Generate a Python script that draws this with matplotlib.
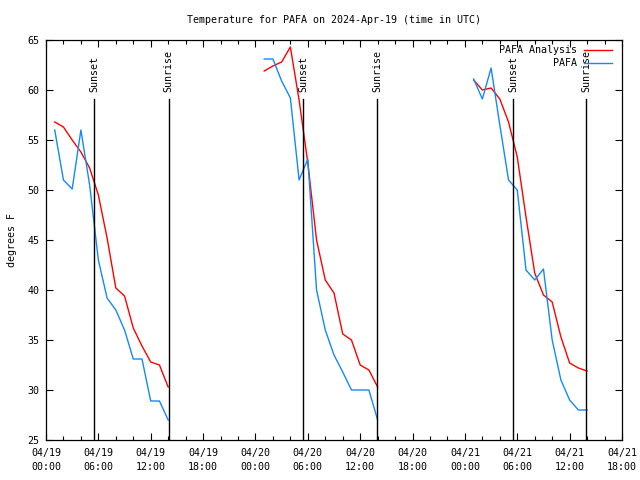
import numpy as np
import matplotlib
matplotlib.use('Agg')
import matplotlib.pyplot as plt
from matplotlib.ticker import FixedLocator, MultipleLocator

# hours since 2024-04-19 00:00 UTC, one block per evening
hours = [1, 2, 3, 4, 5, 6, 7, 8, 9, 10, 11, 12, 13, 14,
         25, 26, 27, 28, 29, 30, 31, 32, 33, 34, 35, 36, 37, 38,
         49, 50, 51, 52, 53, 54, 55, 56, 57, 58, 59, 60, 61, 62]

analysis_F = [56.8, 56.3, 55.0, 53.8, 52.2, 49.5, 45.2, 40.2, 39.4, 36.2, 34.4, 32.8, 32.5, 30.3,
              61.9, 62.4, 62.8, 64.3, 59.0, 52.7, 45.0, 41.0, 39.7, 35.6, 35.0, 32.5, 32.0, 30.3,
              61.0, 60.0, 60.2, 59.1, 56.8, 53.3, 47.3, 41.7, 39.5, 38.8, 35.3, 32.7, 32.2, 31.9]

observed_F = [56.0, 51.0, 50.1, 56.0, 50.5, 43.0, 39.2, 38.0, 36.0, 33.1, 33.1, 28.9, 28.9, 27.0,
              63.1, 63.1, 60.9, 59.2, 51.0, 53.1, 40.0, 36.0, 33.5, 31.8, 30.0, 30.0, 30.0, 27.0,
              61.1, 59.1, 62.2, 56.5, 51.0, 50.0, 42.0, 41.0, 42.1, 35.0, 31.0, 29.0, 28.0, 28.0]

sunset_h = [5.5, 29.5, 53.55]
sunrise_h = [14.05, 37.97, 61.92]

tick_hours = [0, 6, 12, 18, 24, 30, 36, 42, 48, 54, 60, 66]
tick_labels = ['04/19\n00:00', '04/19\n06:00', '04/19\n12:00', '04/19\n18:00',
               '04/20\n00:00', '04/20\n06:00', '04/20\n12:00', '04/20\n18:00',
               '04/21\n00:00', '04/21\n06:00', '04/21\n12:00', '04/21\n18:00']


def with_gaps(x, y):
    # break the line where consecutive hours are not adjacent
    xs, ys = [], []
    for i in range(len(x)):
        if i > 0 and x[i] - x[i - 1] > 1:
            xs.append(np.nan)
            ys.append(np.nan)
        xs.append(x[i])
        ys.append(y[i])
    return xs, ys


plt.rcParams['font.family'] = 'DejaVu Sans Mono'
fs = 7.2

fig = plt.figure(figsize=(6.4, 4.8), dpi=100)
ax = fig.add_axes([46 / 640, 40 / 480, 576 / 640, 400 / 480])

xa, ya = with_gaps(hours, analysis_F)
xo, yo = with_gaps(hours, observed_F)
ax.plot(xa, ya, color='#ff0000', lw=1, label='PAFA Analysis')
ax.plot(xo, yo, color='#1388ff', lw=1, label='PAFA')

for h in sunset_h:
    ax.plot([h, h], [25, 59.1], color='black', lw=1)
    ax.text(h, 59.8, 'Sunset', rotation=90, ha='center', va='bottom', fontsize=fs)
for h in sunrise_h:
    ax.plot([h, h], [25, 59.1], color='black', lw=1)
    ax.text(h, 59.8, 'Sunrise', rotation=90, ha='center', va='bottom', fontsize=fs)

ax.set_xlim(0, 66)
ax.set_ylim(25, 65)
ax.xaxis.set_major_locator(FixedLocator(tick_hours))
ax.set_xticklabels(tick_labels, fontsize=fs, linespacing=1.5)
ax.xaxis.set_minor_locator(MultipleLocator(2))
ax.yaxis.set_major_locator(MultipleLocator(5))
ax.tick_params(axis='both', which='both', direction='in', top=True, right=True, width=0.8)
ax.tick_params(axis='both', which='major', length=5)
ax.tick_params(axis='x', which='minor', length=3)
ax.tick_params(axis='x', which='major', pad=6)
ax.tick_params(axis='y', which='major', pad=4.5, labelsize=fs)
for s in ax.spines.values():
    s.set_linewidth(0.9)

ax.set_ylabel('degrees F', fontsize=fs, labelpad=8)
fig.text(334 / 640, 1 - 20 / 480, 'Temperature for PAFA on 2024-Apr-19 (time in UTC)',
         ha='center', va='center', fontsize=fs)

ax.legend(loc='upper right', bbox_to_anchor=(612 / 640, 1 - 45 / 480),
          bbox_transform=fig.transFigure, frameon=False, markerfirst=False,
          fontsize=fs, handlelength=2.8, handletextpad=0.7, labelspacing=0.3,
          borderaxespad=0, borderpad=0)

fig.savefig('out.png', dpi=100)
